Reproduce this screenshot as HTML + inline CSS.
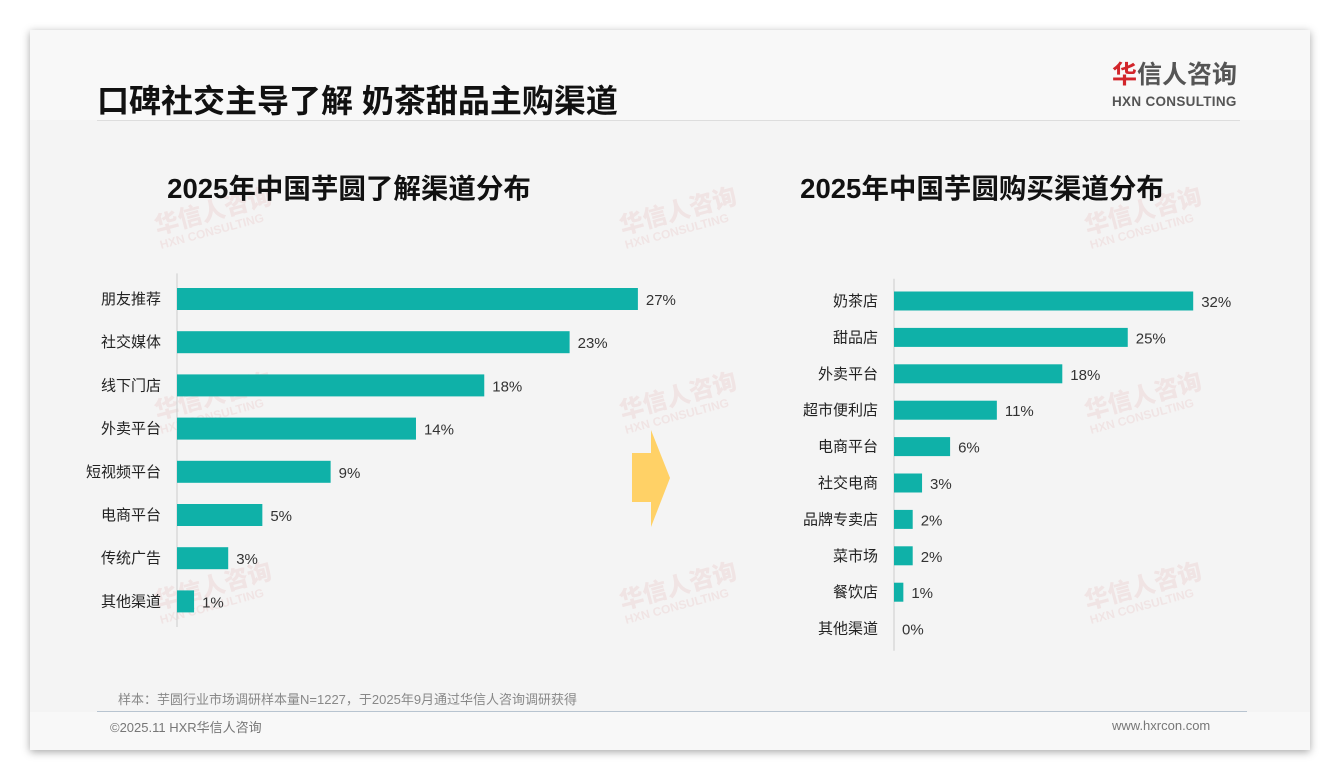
<!DOCTYPE html>
<html><head><meta charset="utf-8"><style>
body{margin:0;width:1340px;height:780px;background:#fff;font-family:"Liberation Sans","Noto Sans CJK SC",sans-serif;position:relative;overflow:hidden}
.card{position:absolute;left:30px;top:30px;width:1280px;height:720px;background:#f4f4f4;box-shadow:0 2px 8px rgba(0,0,0,.35)}
.abs{position:absolute}
.wm{position:absolute;color:#e8b8b8;opacity:.25;transform:rotate(-15deg);font-weight:bold;line-height:1}
.wm b{font-size:24px;display:block}.wm i{font-style:normal;font-size:12px;display:block}
</style></head><body>
<div class="card">
  <div class="abs" style="left:0;top:0;width:1280px;height:90px;background:#f8f8f8"></div>
  <div class="abs" style="left:0;top:682px;width:1280px;height:38px;background:#f8f8f8"></div>
</div>
<div class="abs" style="left:97px;top:76px;font-size:32px;font-weight:bold;color:#111">口碑社交主导了解 奶茶甜品主购渠道</div>
<div class="abs" style="left:1112px;top:63px;font-size:25px;font-weight:bold;color:#555;line-height:1"><span style="color:#d2252b">华</span>信人咨询</div>
<div class="abs" style="left:1112px;top:94px;font-size:13.5px;font-weight:bold;color:#555;letter-spacing:.3px">HXN CONSULTING</div>
<div class="abs" style="left:97px;top:120px;width:1143px;height:1px;background:#ddd"></div>
<div id="wms"></div>
<svg class="abs" style="left:0;top:0" width="1340" height="780" id="chart"></svg>
<div class="abs" style="left:118px;top:689px;font-size:13px;color:#888">样本：芋圆行业市场调研样本量N=1227，于2025年9月通过华信人咨询调研获得</div>
<div class="abs" style="left:97px;top:711px;width:1150px;height:1px;background:#b8c4d0"></div>
<div class="abs" style="left:110px;top:717px;font-size:13px;color:#777">©2025.11 HXR华信人咨询</div>
<div class="abs" style="left:1112px;top:718px;font-size:13px;color:#777">www.hxrcon.com</div>
<script>
const leftCats=["朋友推荐","社交媒体","线下门店","外卖平台","短视频平台","电商平台","传统广告","其他渠道"];
const leftVals=[27,23,18,14,9,5,3,1];
const rightCats=["奶茶店","甜品店","外卖平台","超市便利店","电商平台","社交电商","品牌专卖店","菜市场","餐饮店","其他渠道"];
const rightVals=[32,25,18,11,6,3,2,2,1,0];
const NS="http://www.w3.org/2000/svg";
const svg=document.getElementById('chart');
function mk(t,a){const e=document.createElementNS(NS,t);for(const k in a)e.setAttribute(k,a[k]);svg.appendChild(e);return e;}
const wmPos=[[155,200],[620,200],[1085,200],[155,385],[620,385],[1085,385],[155,575],[620,575],[1085,575]];
wmPos.forEach(p=>{const d=document.createElement('div');d.className='wm';d.style.left=p[0]+'px';d.style.top=p[1]+'px';d.innerHTML='<b>华信人咨询</b><i>HXN CONSULTING</i>';


document.getElementById('wms').appendChild(d);});
function drawChart(cats,vals,x0,scale,y0,step,bh,title,tx,tname){
  const t=mk('text',{x:tx,y:198,'font-size':27.5,'font-weight':'bold',fill:'#111','text-anchor':'middle'});t.textContent=title;
  
  
  const ax=mk('line',{x1:x0,x2:x0,y1:y0-step/2-4,y2:y0+step*(cats.length-0.5)+4,stroke:'#ccc'});
  
  
  cats.forEach((c,i)=>{
    const cy=y0+i*step,w=vals[i]*scale;
    const r=mk('rect',{x:x0,y:cy-bh/2,width:w,height:bh,fill:'#0fb1a8'});
    
    
    const l=mk('text',{x:x0-16,y:cy+5,'font-size':15,fill:'#222','text-anchor':'end'});l.textContent=c;
    
    
    const v=mk('text',{x:x0+w+8,y:cy+6,'font-size':15,fill:'#333'});v.textContent=vals[i]+'%';
    
    
  });
}
drawChart(leftCats,leftVals,177,17.07,299,43.2,22,"2025年中国芋圆了解渠道分布",349,'left-chart-title');
drawChart(rightCats,rightVals,894,9.35,301,36.4,19,"2025年中国芋圆购买渠道分布",982,'right-chart-title');
const ar=mk('polygon',{points:'632,453 651,453 651,430 670,478 651,527 651,502 632,502',fill:'#ffd166'});


</script>
</body></html>
